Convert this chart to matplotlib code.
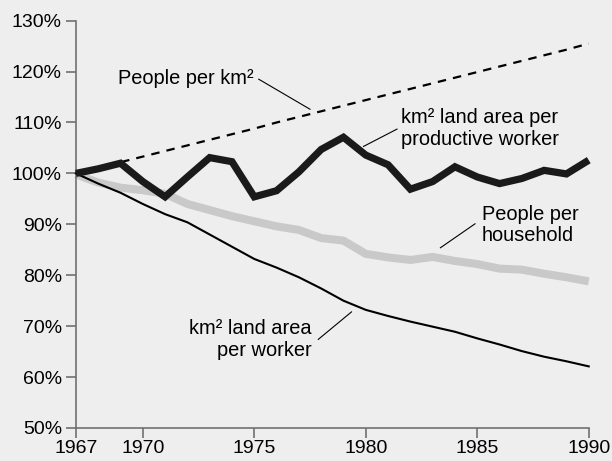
import matplotlib.pyplot as plt

plt.rcParams['font.family'] = ['Liberation Sans', 'DejaVu Sans']

# ------------------------------------------------------------
# Data (index, 1967 = 100%)
# ------------------------------------------------------------
years = list(range(1967, 1991))

people_per_km2 = [100.0, 101.1, 102.2, 103.3, 104.4, 105.5, 106.6, 107.7,
                  108.8, 110.0, 111.1, 112.2, 113.3, 114.4, 115.5, 116.6,
                  117.7, 118.8, 119.9, 121.0, 122.1, 123.2, 124.3, 125.5]

km2_per_productive_worker = [100.0, 100.9, 102.0, 98.4, 95.4, 99.3, 103.1, 102.3,
                             95.4, 96.6, 100.3, 104.7, 107.1, 103.6, 101.7, 96.9,
                             98.4, 101.3, 99.3, 98.0, 99.0, 100.6, 99.9, 102.6]

people_per_household = [99.8, 98.2, 97.2, 96.7, 96.0, 94.0, 92.8, 91.6,
                        90.6, 89.6, 88.9, 87.3, 86.8, 84.2, 83.5, 83.0,
                        83.6, 82.8, 82.2, 81.3, 81.1, 80.3, 79.6, 78.8]

km2_per_worker = [100.0, 98.0, 96.2, 94.0, 92.0, 90.4, 88.0, 85.6,
                  83.2, 81.5, 79.6, 77.4, 75.0, 73.2, 72.0, 70.9,
                  69.9, 68.9, 67.6, 66.4, 65.1, 64.0, 63.1, 62.1]

y_ticks = [50, 60, 70, 80, 90, 100, 110, 120, 130]
x_ticks = [1967, 1970, 1975, 1980, 1985, 1990]

bg = '#eeeeee'
axis_col = '#707070'

# ------------------------------------------------------------
# Figure
# ------------------------------------------------------------
fig = plt.figure(figsize=(6.12, 4.61), dpi=100, facecolor=bg)
ax = fig.add_axes([0.124, 0.0716, 0.838, 0.8836], facecolor=bg)

ax.plot(years, people_per_household, color='#c9c9c9', lw=5.8,
        solid_capstyle='butt', zorder=2, clip_on=False)
ax.plot(years, km2_per_worker, color='black', lw=1.5, zorder=3, clip_on=False)
ax.plot(years, people_per_km2, color='black', lw=1.6, dashes=(3.8, 3.2),
        zorder=3, clip_on=False)
ax.plot(years, km2_per_productive_worker, color='#1a1a1a', lw=5.2,
        solid_joinstyle='miter', solid_capstyle='butt', zorder=4, clip_on=False)

ax.set_xlim(1967, 1990)
ax.set_ylim(50, 130)
ax.set_xticks(x_ticks)
ax.set_yticks(y_ticks)
ax.set_yticklabels([f'{v}%' for v in y_ticks])

for side in ['top', 'right']:
    ax.spines[side].set_visible(False)
for side in ['left', 'bottom']:
    ax.spines[side].set_color(axis_col)
    ax.spines[side].set_linewidth(1.2)

ax.tick_params(axis='both', direction='out', length=7, width=1.2,
               color=axis_col, labelsize=14, labelcolor='black')
ax.tick_params(axis='y', pad=3)
ax.tick_params(axis='x', pad=2)

# ------------------------------------------------------------
# Labels with leader lines
# ------------------------------------------------------------
fs = 14.4
ls = 1.15
ax.text(1968.9, 118.7, 'People per km²', fontsize=fs, va='center', ha='left')
ax.plot([1975.2, 1977.5], [118.5, 112.6], color='black', lw=0.8)

ax.text(1981.6, 108.8, 'km² land area per\nproductive worker', fontsize=fs,
        va='center', ha='left', linespacing=ls)
ax.plot([1981.4, 1979.9], [108.7, 105.3], color='black', lw=0.8)

ax.text(1985.2, 89.9, 'People per\nhousehold', fontsize=fs,
        va='center', ha='left', linespacing=ls)
ax.plot([1984.9, 1983.35], [90.1, 85.4], color='black', lw=0.8)

ax.text(1977.58, 67.4, 'km² land area\nper worker', fontsize=fs,
        va='center', ha='right', multialignment='right', linespacing=ls)
ax.plot([1977.87, 1979.36], [67.4, 72.8], color='black', lw=0.8)

plt.savefig('out.png', dpi=100, facecolor=bg)
